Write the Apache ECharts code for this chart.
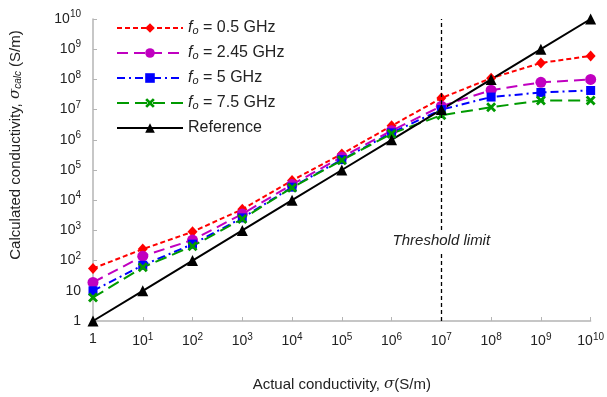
<!DOCTYPE html>
<html>
<head>
<meta charset="utf-8">
<script src="https://cdn.jsdelivr.net/npm/echarts@6/dist/echarts.min.js"></script>
<style>html,body{margin:0;padding:0;background:#fff;}#c{width:607px;height:397px;}</style>
</head>
<body>
<div id="c"></div>
<script>
// Data
const actual = [1, 1e1, 1e2, 1e3, 1e4, 1e5, 1e6, 1e7, 1e8, 1e9, 1e10];
const f05 = [55, 240, 900, 5000, 4.5e4, 3.4e5, 2.9e6, 2.4e7, 1.1e8, 3.5e8, 6e8];
const f245 = [19, 140, 480, 3500, 3.3e4, 2.7e5, 2.0e6, 1.3e7, 4.4e7, 8e7, 1e8];
const f5 = [10, 70, 350, 2600, 2.7e4, 2.2e5, 1.7e6, 1.0e7, 2.6e7, 3.7e7, 4.3e7];
const f75 = [6, 60, 300, 2400, 2.6e4, 2.1e5, 1.6e6, 6.5e6, 1.2e7, 2e7, 2e7];
const reference = [1, 1e1, 1e2, 1e3, 1e4, 1e5, 1e6, 1e7, 1e8, 1e9, 1e10];
const seriesNames = ['{i|f}{sub|o} = 0.5 GHz', '{i|f}{sub|o} = 2.45 GHz', '{i|f}{sub|o} = 5 GHz', '{i|f}{sub|o} = 7.5 GHz', 'Reference'];
const threshold = 1e7;
const thresholdLabelY = 460;

const FONT = '"Liberation Sans", Arial, sans-serif';
const pairs = (ys) => actual.map((x, i) => [x, ys[i]]);
const expOf = (v) => Math.round(Math.log10(v));
const xFmt = (v) => { const e = expOf(v); return e === 0 ? '{b|1}' : '{b|10}{s|' + e + '}'; };
const yFmt = (v) => { const e = expOf(v); return e === 0 ? '{b|1}' : (e === 1 ? '{b|10}' : '{b|10}{s|' + e + '}'); };
const tickRich = {
  b: { fontSize: 14, color: '#222', fontFamily: FONT },
  s: { fontSize: 10, color: '#222', fontFamily: FONT, padding: [0, 0, 9, 0] }
};
const crossPath = 'path://M0,2 L2,0 L5,3 L8,0 L10,2 L7,5 L10,8 L8,10 L5,7 L2,10 L0,8 L3,5 Z';

const chart = echarts.init(document.getElementById('c'), null, { renderer: 'canvas' });
const mkLine = (name, ys, color, dash, symbol, size) => ({
  name: name, type: 'line', data: pairs(ys),
  symbol: symbol, symbolSize: size,
  lineStyle: { color: color, width: 2, type: dash },
  itemStyle: { color: color },
  animation: false
});

const s1 = mkLine(seriesNames[0], f05, '#FF0000', [5, 3], 'diamond', [10, 11]);
const s2 = mkLine(seriesNames[1], f245, '#C000C0', [11, 6], 'circle', 11);
const s3 = mkLine(seriesNames[2], f5, '#0000FF', [8, 4, 2, 4], 'rect', 9);
const s4 = mkLine(seriesNames[3], f75, '#009A00', [12, 6], crossPath, 10);
const s5 = mkLine(seriesNames[4], reference, '#000000', 'solid', 'triangle', 11);
s5.markLine = {
  silent: true, symbol: ['none', 'none'], animation: false,
  lineStyle: { color: '#000', type: [4, 3], width: 1.3 },
  label: { show: false },
  data: [{ xAxis: threshold }]
};
s5.markPoint = {
  silent: true, animation: false, symbol: 'rect', symbolSize: 0,
  data: [{ coord: [threshold, thresholdLabelY] }],
  label: {
    show: true, position: 'inside', formatter: 'Threshold limit',
    fontFamily: FONT, fontSize: 15, fontStyle: 'italic', color: '#222',
    backgroundColor: '#fff', padding: [3, 3]
  }
};

chart.setOption({
  backgroundColor: '#fff',
  animation: false,
  grid: { left: 91, right: 14, top: 19, bottom: 75, containLabel: false },
  legend: {
    orient: 'vertical', left: 111, top: 15,
    itemWidth: 66, itemHeight: 12, itemGap: 9,
    data: seriesNames,
    textStyle: {
      fontFamily: FONT, fontSize: 16, color: '#222',
      rich: {
        i: { fontFamily: FONT, fontSize: 16, fontStyle: 'italic', color: '#222' },
        sub: { fontFamily: FONT, fontSize: 11, fontStyle: 'italic', color: '#222', padding: [5, 0, 0, 0] }
      }
    }
  },
  xAxis: {
    type: 'log', logBase: 10, min: 1, max: 1e10, interval: 1,
    name: '{n|Actual conductivity, }{i|σ}{n|(S/m)}', nameLocation: 'middle', nameGap: 56,
    nameTextStyle: {
      rich: {
        n: { fontFamily: FONT, fontSize: 15, color: '#222' },
        i: { fontFamily: 'DejaVu Serif, serif', fontSize: 15, fontStyle: 'italic', color: '#222' }
      }
    },
    axisLine: { lineStyle: { color: '#b4b4b4', width: 1.5 } },
    axisTick: { inside: true, length: 4, lineStyle: { color: '#b4b4b4' } },
    splitLine: { show: false },
    minorTick: { show: false },
    axisLabel: { formatter: xFmt, margin: 11, rich: tickRich }
  },
  yAxis: {
    type: 'log', logBase: 10, min: 1, max: 1e10, interval: 1,
    name: '{n|Calculated conductivity, }{i|σ}{sub|calc}{n| (S/m)}', nameLocation: 'middle', nameGap: 70,
    nameTextStyle: {
      padding: [0, 0, 0, 50],
      rich: {
        n: { fontFamily: FONT, fontSize: 15, color: '#222' },
        i: { fontFamily: 'DejaVu Serif, serif', fontSize: 15, fontStyle: 'italic', color: '#222' },
        sub: { fontFamily: FONT, fontSize: 10, fontStyle: 'italic', color: '#222', padding: [5, 0, 0, 0] }
      }
    },
    axisLine: { show: true, lineStyle: { color: '#b4b4b4', width: 1.5 } },
    axisTick: { show: true, inside: true, length: 4, lineStyle: { color: '#b4b4b4' } },
    splitLine: { show: false },
    axisLabel: { formatter: yFmt, margin: 12, rich: tickRich }
  },
  series: [s1, s2, s3, s4, s5]
});
</script>
</body>
</html>
